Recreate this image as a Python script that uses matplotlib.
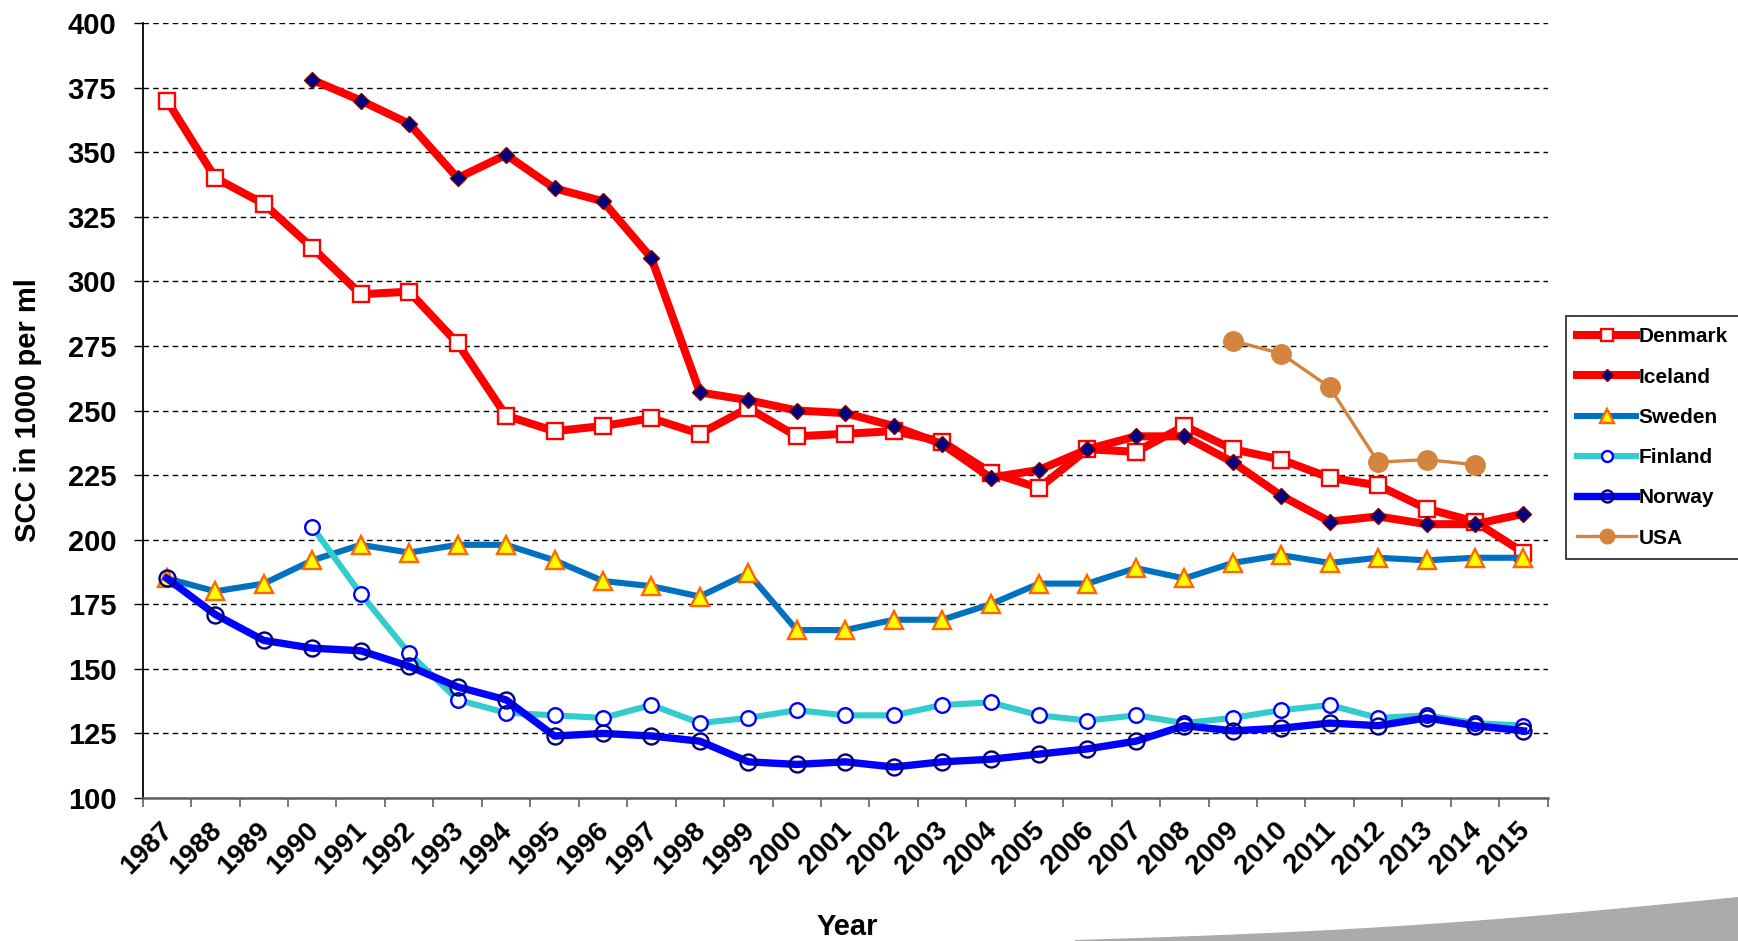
import numpy as np
import matplotlib
matplotlib.use("Agg")
import matplotlib.pyplot as plt
import matplotlib.transforms as mtransforms
from matplotlib.patches import Polygon

years = list(range(1987, 2016))
nan = np.nan
denmark = [370, 340, 330, 313, 295, 296, 276, 248, 242, 244, 247, 241, 251, 240, 241,
           242, 238, 226, 220, 235, 234, 244, 235, 231, 224, 221, 212, 207, 195]
iceland = [nan, nan, nan, 378, 370, 361, 340, 349, 336, 331, 309, 257, 254, 250, 249,
           244, 237, 224, 227, 235, 240, 240, 230, 217, 207, 209, 206, 206, 210]
sweden = [185, 180, 183, 192, 198, 195, 198, 198, 192, 184, 182, 178, 187, 165, 165,
          169, 169, 175, 183, 183, 189, 185, 191, 194, 191, 193, 192, 193, 193]
finland = [nan, nan, nan, 205, 179, 156, 138, 133, 132, 131, 136, 129, 131, 134, 132,
           132, 136, 137, 132, 130, 132, 129, 131, 134, 136, 131, 132, 129, 128]
norway = [185, 171, 161, 158, 157, 151, 143, 138, 124, 125, 124, 122, 114, 113, 114,
          112, 114, 115, 117, 119, 122, 128, 126, 127, 129, 128, 131, 128, 126]
usa_years = [2009, 2010, 2011, 2012, 2013, 2014]
usa = [277, 272, 259, 230, 231, 229]
yticks = list(range(100, 401, 25))

plt.rcParams['font.family'] = ['Liberation Sans', 'DejaVu Sans']
plt.rcParams['font.weight'] = 'bold'

W, H = 1738, 941
fig = plt.figure(figsize=(W / 100, H / 100), dpi=100)
ax = fig.add_axes([142.7 / W, 1 - 798 / H, (1547.7 - 142.7) / W, (798 - 23) / H])

x = np.arange(len(years))
xu = np.array([years.index(y) for y in usa_years])

ax.plot(x, denmark, color='#FF0000', lw=5.8, marker='s', ms=11, mfc='white',
        mec='#FF0000', mew=1.7, label='Denmark', zorder=3)
ax.plot(x, iceland, color='#FF0000', lw=5.8, marker='D', ms=8.5, mfc='#000080',
        mec='#800000', mew=1.0, label='Iceland', zorder=4)
ax.plot(x, sweden, color='#0070C0', lw=4.4, marker='^', ms=12.5, mfc='#FFFF00',
        mec='#FF6600', mew=1.7, label='Sweden', zorder=5)
ax.plot(x, finland, color='#33CCCC', lw=4.4, marker='o', ms=10.5, mfc='white',
        mec='#0000FF', mew=1.7, label='Finland', zorder=6)
ax.plot(x, norway, color='#0000FF', lw=5.3, marker='o', ms=11.5, mfc='none',
        mec='#000080', mew=1.7, label='Norway', zorder=7)
ax.plot(xu, usa, color='#D4843E', lw=2.4, marker='o', ms=14, mfc='#D4843E',
        mec='#D4843E', label='USA', zorder=8)

ax.set_xlim(-0.5, len(years) - 0.5)
ax.set_ylim(100, 400)
ax.set_yticks(yticks)
ax.set_yticklabels([str(v) for v in yticks], fontsize=21, fontweight='bold')
ax.set_xticks(x)
ax.set_xticklabels([str(y) for y in years], rotation=45, ha='right', va='top',
                   rotation_mode='anchor', fontsize=20, fontweight='bold')
ax.set_xticks(np.arange(-0.5, len(years), 1.0), minor=True)
ax.tick_params(axis='x', which='major', length=0, pad=14)
ax.tick_params(axis='x', which='minor', length=6.5, width=1.2, color='#606060')
ax.tick_params(axis='y', length=6.5, width=1.0, pad=12.5, color='black')
offset = mtransforms.ScaledTranslation(-0.07, 0.0, fig.dpi_scale_trans)
for lbl in ax.get_xticklabels():
    lbl.set_transform(lbl.get_transform() + offset)

ax.grid(axis='y', color='black', linestyle=(0, (4, 3)), linewidth=1.0, zorder=0)
ax.set_axisbelow(True)
for s in ['top', 'right']:
    ax.spines[s].set_visible(False)
ax.spines['left'].set_color('black')
ax.spines['left'].set_linewidth(1.3)
ax.spines['bottom'].set_color('#606060')
ax.spines['bottom'].set_linewidth(1.8)

ax.set_ylabel('SCC in 1000 per ml', fontsize=21, fontweight='bold')
ax.yaxis.set_label_coords(-0.072, 0.5)
fig.text(847 / W, 1 - 927 / H, 'Year', fontsize=21, fontweight='bold',
         ha='center', va='center')

leg = fig.legend(loc='upper left', bbox_to_anchor=(1566 / W, 1 - 316 / H),
                 bbox_transform=fig.transFigure, fontsize=15, frameon=True,
                 fancybox=False, edgecolor='black', handlelength=2.8,
                 handletextpad=0.15, labelspacing=1.02, borderpad=0.55,
                 borderaxespad=0, markerscale=0.75)
leg.get_frame().set_linewidth(1.3)
for t in leg.get_texts():
    t.set_fontweight('bold')

# decorative grey shape bottom-right
t = np.linspace(0, 1, 40)
xs = 1075 + (1738 - 1075) * t
ys = 940 - 43 * t + 7 * np.sin(np.pi * t)
pts = [(xx / W, 1 - yy / H) for xx, yy in zip(xs, ys)] + [(1, 0), (1075 / W, 0)]
fig.patches.append(Polygon(pts, closed=True, transform=fig.transFigure,
                           facecolor='#ABABAB', edgecolor='none'))

fig.savefig('out.png', dpi=100)
